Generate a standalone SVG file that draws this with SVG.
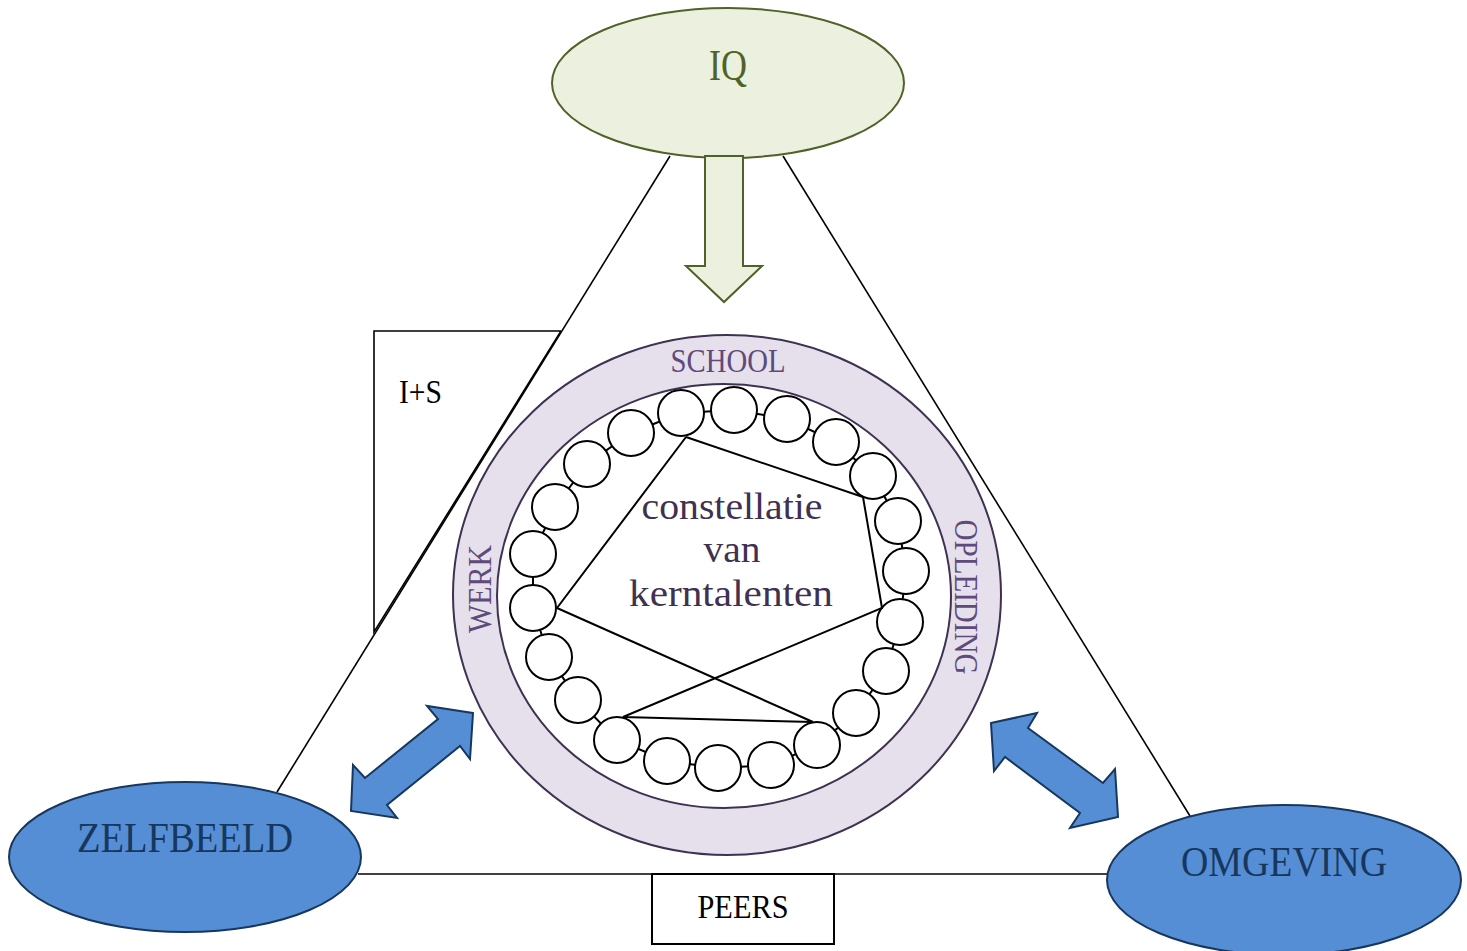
<svg xmlns="http://www.w3.org/2000/svg" width="1467" height="951" viewBox="0 0 1467 951">
<defs>
<style>
text{font-family:"Liberation Serif","Times New Roman",serif;}
.tri{stroke:#000;stroke-width:1.6;fill:none;}
.green{fill:#EBF1DE;stroke:#4F6228;stroke-width:2;}
.blue{fill:#558ED5;stroke:#17375E;stroke-width:2;}
.bluetxt{fill:#17375E;font-size:42px;text-anchor:middle;}
.ring{fill:#E5E0EC;stroke:#3F3151;stroke-width:2;}
.inner{fill:#fff;stroke:#3F3151;stroke-width:2;}
.ringtxt{fill:#604A7B;font-size:34px;text-anchor:middle;}
.ctr{fill:#3F3151;font-size:37px;text-anchor:middle;}
.tal{fill:#fff;stroke:#000;stroke-width:2;}
.link{stroke:#000;stroke-width:2;fill:none;}
.box{fill:#fff;stroke:#000;stroke-width:2;}
.boxtxt{fill:#000;font-size:34px;}
</style>
</defs>
<rect width="1467" height="951" fill="#fff"/>

<g id="connectors">
  <line class="tri" x1="670" y1="156" x2="277" y2="792"/>
  <line class="tri" x1="783" y1="156" x2="1190" y2="816"/>
  <line class="tri" x1="358" y1="874" x2="1108" y2="874"/>
</g>

<g id="node-IS">
  <path class="tri" d="M561,331 H374 V632 L561,331"/>
  <text class="boxtxt" x="399" y="403" textLength="43" lengthAdjust="spacingAndGlyphs">I+S</text>
</g>

<g id="node-PEERS">
  <rect class="box" x="652" y="874" width="182" height="70"/>
  <text class="boxtxt" x="743" y="918" text-anchor="middle" textLength="91" lengthAdjust="spacingAndGlyphs">PEERS</text>
</g>

<g id="node-IQ">
  <ellipse class="green" cx="728" cy="83" rx="176" ry="75"/>
  <text x="728" y="80" fill="#4F6228" font-size="45" text-anchor="middle" textLength="38" lengthAdjust="spacingAndGlyphs">IQ</text>
</g>

<g id="node-ZELFBEELD">
  <ellipse class="blue" cx="185" cy="857" rx="176" ry="75"/>
  <text class="bluetxt" x="185" y="852" textLength="216" lengthAdjust="spacingAndGlyphs">ZELFBEELD</text>
</g>

<g id="node-OMGEVING">
  <ellipse class="blue" cx="1284" cy="880" rx="177" ry="75"/>
  <text class="bluetxt" x="1284" y="876" textLength="206" lengthAdjust="spacingAndGlyphs">OMGEVING</text>
</g>

<g id="arrows">
  <polygon class="green" points="705,156 743,156 743,266 762,266 724,302 686,266 705,266"/>
  <polygon class="blue" points="473,713 427,706 438,719 365,778 353,765 351,811 397,818 387,805 460,746 470,759"/>
  <polygon class="blue" points="991,723 1037,713 1028,728 1103,783 1115,769 1118,817 1070,828 1080,813 1005,757 994,771"/>
</g>

<g id="node-ring">
  <ellipse class="ring" cx="727" cy="595" rx="274" ry="260"/>
  <ellipse class="inner" cx="724" cy="596" rx="227" ry="212"/>
  <text class="ringtxt" x="728" y="372" textLength="115" lengthAdjust="spacingAndGlyphs">SCHOOL</text>
  <text class="ringtxt" transform="translate(479,589) rotate(-90)" x="0" y="12" textLength="88" lengthAdjust="spacingAndGlyphs">WERK</text>
  <text class="ringtxt" transform="translate(967,597) rotate(90)" x="0" y="12" textLength="155" lengthAdjust="spacingAndGlyphs">OPLEIDING</text>
</g>

<g id="talent-links">
  <polygon class="link" points="681,413 734,410 787,419 836,442 873,476 898,521 906,571 900,622 886,671 856,713 817,745 771,765 718,768 667,761 617,740 578,700 549,657 533,608 533,554 555,507 587,464 631,433"/>
</g>

<g id="talents">
  <circle id="t1" class="tal" cx="681" cy="413" r="23"/>
  <circle id="t2" class="tal" cx="734" cy="410" r="23"/>
  <circle id="t3" class="tal" cx="787" cy="419" r="23"/>
  <circle id="t4" class="tal" cx="836" cy="442" r="23"/>
  <circle id="t5" class="tal" cx="873" cy="476" r="23"/>
  <circle id="t6" class="tal" cx="898" cy="521" r="23"/>
  <circle id="t7" class="tal" cx="906" cy="571" r="23"/>
  <circle id="t8" class="tal" cx="900" cy="622" r="23"/>
  <circle id="t9" class="tal" cx="886" cy="671" r="23"/>
  <circle id="t10" class="tal" cx="856" cy="713" r="23"/>
  <circle id="t11" class="tal" cx="817" cy="745" r="23"/>
  <circle id="t12" class="tal" cx="771" cy="765" r="23"/>
  <circle id="t13" class="tal" cx="718" cy="768" r="23"/>
  <circle id="t14" class="tal" cx="667" cy="761" r="23"/>
  <circle id="t15" class="tal" cx="617" cy="740" r="23"/>
  <circle id="t16" class="tal" cx="578" cy="700" r="23"/>
  <circle id="t17" class="tal" cx="549" cy="657" r="23"/>
  <circle id="t18" class="tal" cx="533" cy="608" r="23"/>
  <circle id="t19" class="tal" cx="533" cy="554" r="23"/>
  <circle id="t20" class="tal" cx="555" cy="507" r="23"/>
  <circle id="t21" class="tal" cx="587" cy="464" r="23"/>
  <circle id="t22" class="tal" cx="631" cy="433" r="23"/>
</g>

<g id="constellation-links">
  <polyline class="link" points="686,437 863,497 882,608 623,717 813,722 557,608 686,437"/>
</g>

<g id="node-constellatie">
  <text class="ctr" x="732" y="519" textLength="181" lengthAdjust="spacingAndGlyphs">constellatie</text>
  <text class="ctr" x="732" y="562" textLength="57" lengthAdjust="spacingAndGlyphs">van</text>
  <text class="ctr" x="731" y="606" textLength="204" lengthAdjust="spacingAndGlyphs">kerntalenten</text>
</g>
</svg>
